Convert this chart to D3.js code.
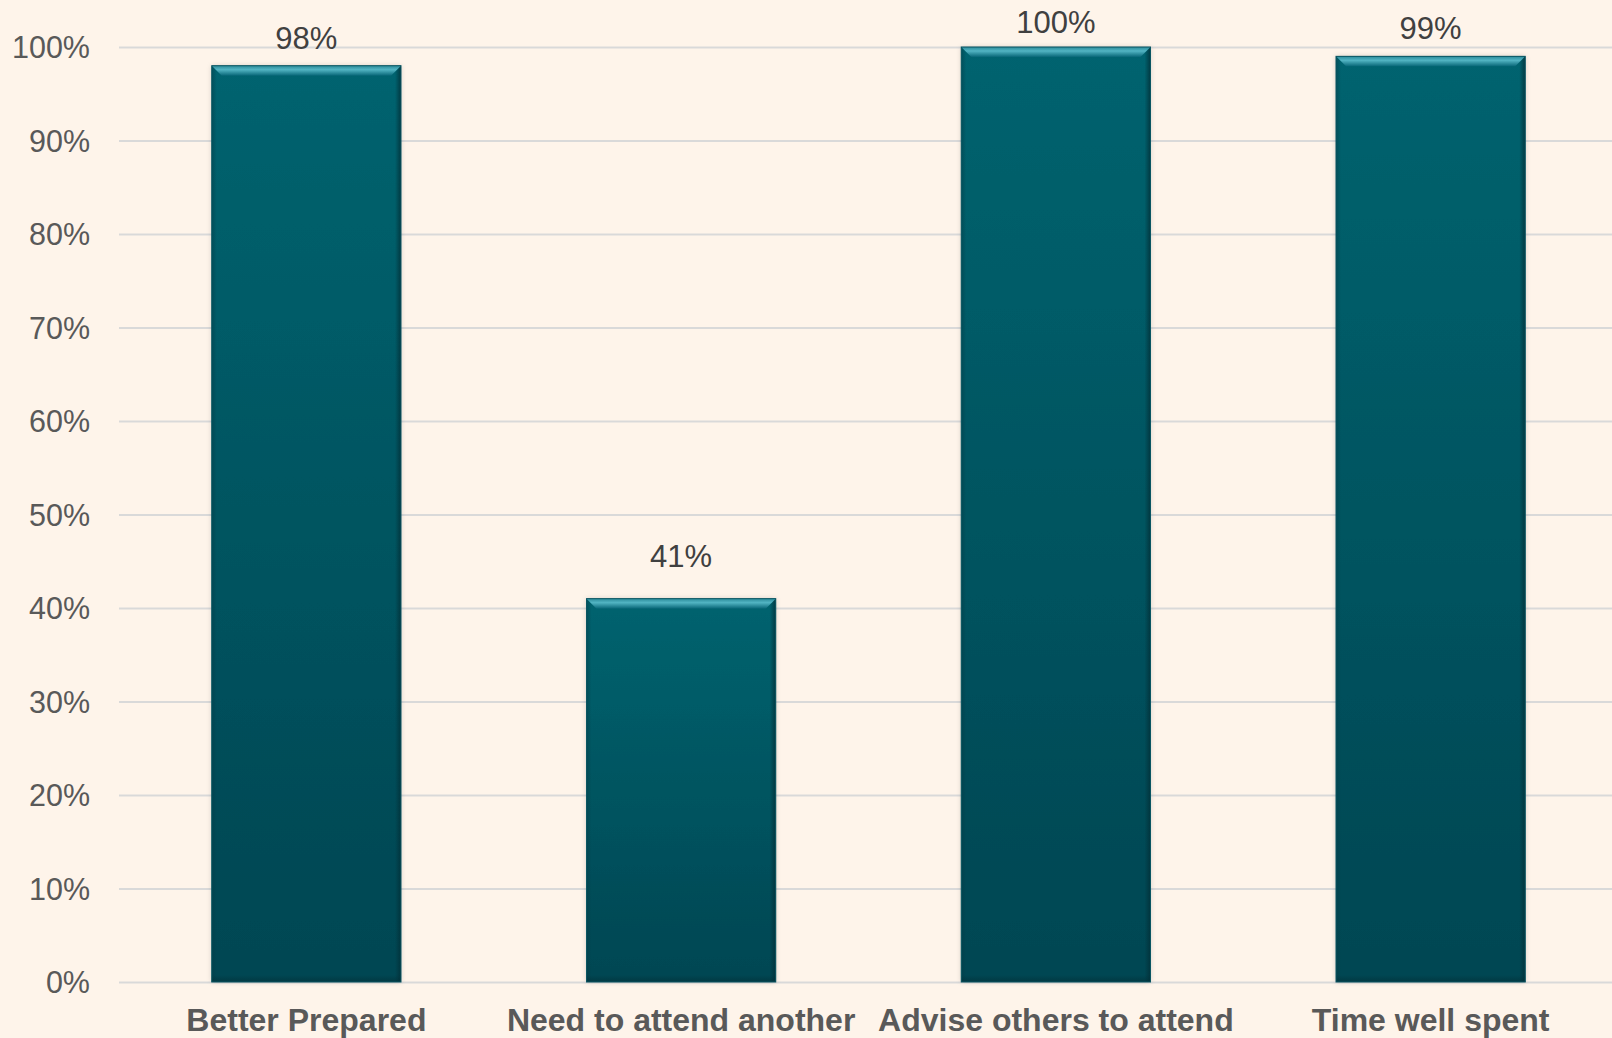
<!DOCTYPE html>
<html>
<head>
<meta charset="utf-8">
<script src="https://cdn.jsdelivr.net/npm/d3@7"></script>
<style>
  html, body { margin: 0; padding: 0; background: #fef4ea; }
  svg { display: block; }
</style>
</head>
<body>
<svg id="chart" width="1612" height="1038"></svg>
<script>
// Survey results: share of respondents agreeing with each statement
const categories = ["Better Prepared", "Need to attend another", "Advise others to attend", "Time well spent"];
const values = [0.98, 0.41, 1.00, 0.99];
const tickValues = [0, 0.1, 0.2, 0.3, 0.4, 0.5, 0.6, 0.7, 0.8, 0.9, 1.0];

const W = 1612, H = 1038;
const plotLeft = 119, plotRight = 1618;
const margin = { top: 47, bottom: 56 };
const svg = d3.select("#chart");

svg.append("rect").attr("width", W).attr("height", H).attr("fill", "#fef4ea");

const x = d3.scaleBand()
  .domain(categories)
  .range([plotLeft, plotRight])
  .paddingInner(0.495)
  .paddingOuter(0.2475);

const y = d3.scaleLinear()
  .domain([0, 1])
  .range([H - margin.bottom, margin.top]);

const fmt = d3.format(".0%");

// Gradients for the bevelled bars
const defs = svg.append("defs");
const body = defs.append("linearGradient").attr("id", "barBody")
  .attr("x1", 0).attr("y1", 0).attr("x2", 0).attr("y2", 1);
body.append("stop").attr("offset", "0%").attr("stop-color", "#06636f");
body.append("stop").attr("offset", "100%").attr("stop-color", "#054652");

const bevel = defs.append("linearGradient").attr("id", "barBevel")
  .attr("x1", 0).attr("y1", 0).attr("x2", 0).attr("y2", 1);
bevel.append("stop").attr("offset", "0%").attr("stop-color", "#2b8b9a");
bevel.append("stop").attr("offset", "40%").attr("stop-color", "#52b4c3");
bevel.append("stop").attr("offset", "100%").attr("stop-color", "#086677");

const side = defs.append("linearGradient").attr("id", "barSideL")
  .attr("x1", 0).attr("y1", 0).attr("x2", 1).attr("y2", 0);
side.append("stop").attr("offset", "0%").attr("stop-color", "#033c46").attr("stop-opacity", 0.5);
side.append("stop").attr("offset", "100%").attr("stop-color", "#033c46").attr("stop-opacity", 0);
const sideR = defs.append("linearGradient").attr("id", "barSideR")
  .attr("x1", 1).attr("y1", 0).attr("x2", 0).attr("y2", 0);
sideR.append("stop").attr("offset", "0%").attr("stop-color", "#022f37").attr("stop-opacity", 0.8);
sideR.append("stop").attr("offset", "100%").attr("stop-color", "#022f37").attr("stop-opacity", 0);
const bottomShade = defs.append("linearGradient").attr("id", "barBottom")
  .attr("x1", 0).attr("y1", 1).attr("x2", 0).attr("y2", 0);
bottomShade.append("stop").attr("offset", "0%").attr("stop-color", "#022f37").attr("stop-opacity", 0.6);
bottomShade.append("stop").attr("offset", "100%").attr("stop-color", "#022f37").attr("stop-opacity", 0);

const shadow = defs.append("filter").attr("id", "barShadow")
  .attr("x", "-10%").attr("y", "-10%").attr("width", "120%").attr("height", "120%");
shadow.append("feGaussianBlur").attr("in", "SourceAlpha").attr("stdDeviation", 2.5).attr("result", "b");
shadow.append("feFlood").attr("flood-color", "#000").attr("flood-opacity", 0.18);
shadow.append("feComposite").attr("in2", "b").attr("operator", "in").attr("result", "s");
const merge = shadow.append("feMerge");
merge.append("feMergeNode").attr("in", "s");
merge.append("feMergeNode").attr("in", "SourceGraphic");

// Gridlines and y axis labels
const yAxis = d3.axisLeft(y)
  .tickValues(tickValues)
  .tickFormat(fmt)
  .tickSize(-(plotRight - plotLeft))
  .tickPadding(29);

const gy = svg.append("g")
  .attr("transform", `translate(${plotLeft},0)`)
  .call(yAxis);
gy.select(".domain").remove();
gy.selectAll(".tick line").attr("stroke", "#d9d9d9").attr("stroke-width", 2);
gy.selectAll(".tick text")
  .attr("fill", "#595959")
  .attr("font-family", "Liberation Sans, Arial, sans-serif")
  .attr("font-size", 30.5)
  .attr("dy", "0.36em");

// Bars
const bev = 10;
const bars = svg.append("g").selectAll("g.bar")
  .data(categories.map((c, i) => ({ c, v: values[i] })))
  .join("g").attr("class", "bar");

bars.append("rect")
  .attr("x", d => x(d.c))
  .attr("y", d => y(d.v))
  .attr("width", x.bandwidth())
  .attr("height", d => y(0) - y(d.v))
  .attr("fill", "url(#barBody)")
  .attr("filter", "url(#barShadow)");

bars.append("rect")
  .attr("x", d => x(d.c))
  .attr("y", d => y(d.v))
  .attr("width", 5)
  .attr("height", d => y(0) - y(d.v))
  .attr("fill", "url(#barSideL)");

bars.append("rect")
  .attr("x", d => x(d.c) + x.bandwidth() - 6)
  .attr("y", d => y(d.v))
  .attr("width", 6)
  .attr("height", d => y(0) - y(d.v))
  .attr("fill", "url(#barSideR)");

bars.append("rect")
  .attr("x", d => x(d.c))
  .attr("y", y(0) - 7)
  .attr("width", x.bandwidth())
  .attr("height", 7)
  .attr("fill", "url(#barBottom)");

// Top bevel strip
bars.append("path")
  .attr("d", d => {
    const x0 = x(d.c), x1 = x0 + x.bandwidth(), t = y(d.v);
    return `M${x0},${t}L${x1},${t}L${x1 - bev},${t + bev}L${x0 + bev},${t + bev}Z`;
  })
  .attr("fill", "url(#barBevel)");

bars.append("rect")
  .attr("x", d => x(d.c))
  .attr("y", d => y(d.v))
  .attr("width", x.bandwidth())
  .attr("height", d => y(0) - y(d.v))
  .attr("fill", "none")
  .attr("stroke", "#0a5562")
  .attr("stroke-width", 1);

// Value labels above bars, pulled closer when near the top of the chart area
bars.append("text")
  .attr("x", d => x(d.c) + x.bandwidth() / 2)
  .attr("y", d => {
    const t = y(d.v);
    return t - 32 >= 40 ? t - 32 : Math.max(t - 17, 33);
  })
  .attr("text-anchor", "middle")
  .attr("fill", "#404040")
  .attr("font-family", "Liberation Sans, Arial, sans-serif")
  .attr("font-size", 31)
  .text(d => fmt(d.v));

// Category labels
const xAxis = d3.axisBottom(x).tickSize(0).tickPadding(0);
const gx = svg.append("g")
  .attr("transform", `translate(0,${y(0)})`)
  .call(xAxis);
gx.select(".domain").remove();
gx.selectAll(".tick text")
  .attr("y", 49)
  .attr("dy", 0)
  .attr("fill", "#595959")
  .attr("font-family", "Liberation Sans, Arial, sans-serif")
  .attr("font-weight", "bold")
  .attr("font-size", 32);
</script>
</body>
</html>
